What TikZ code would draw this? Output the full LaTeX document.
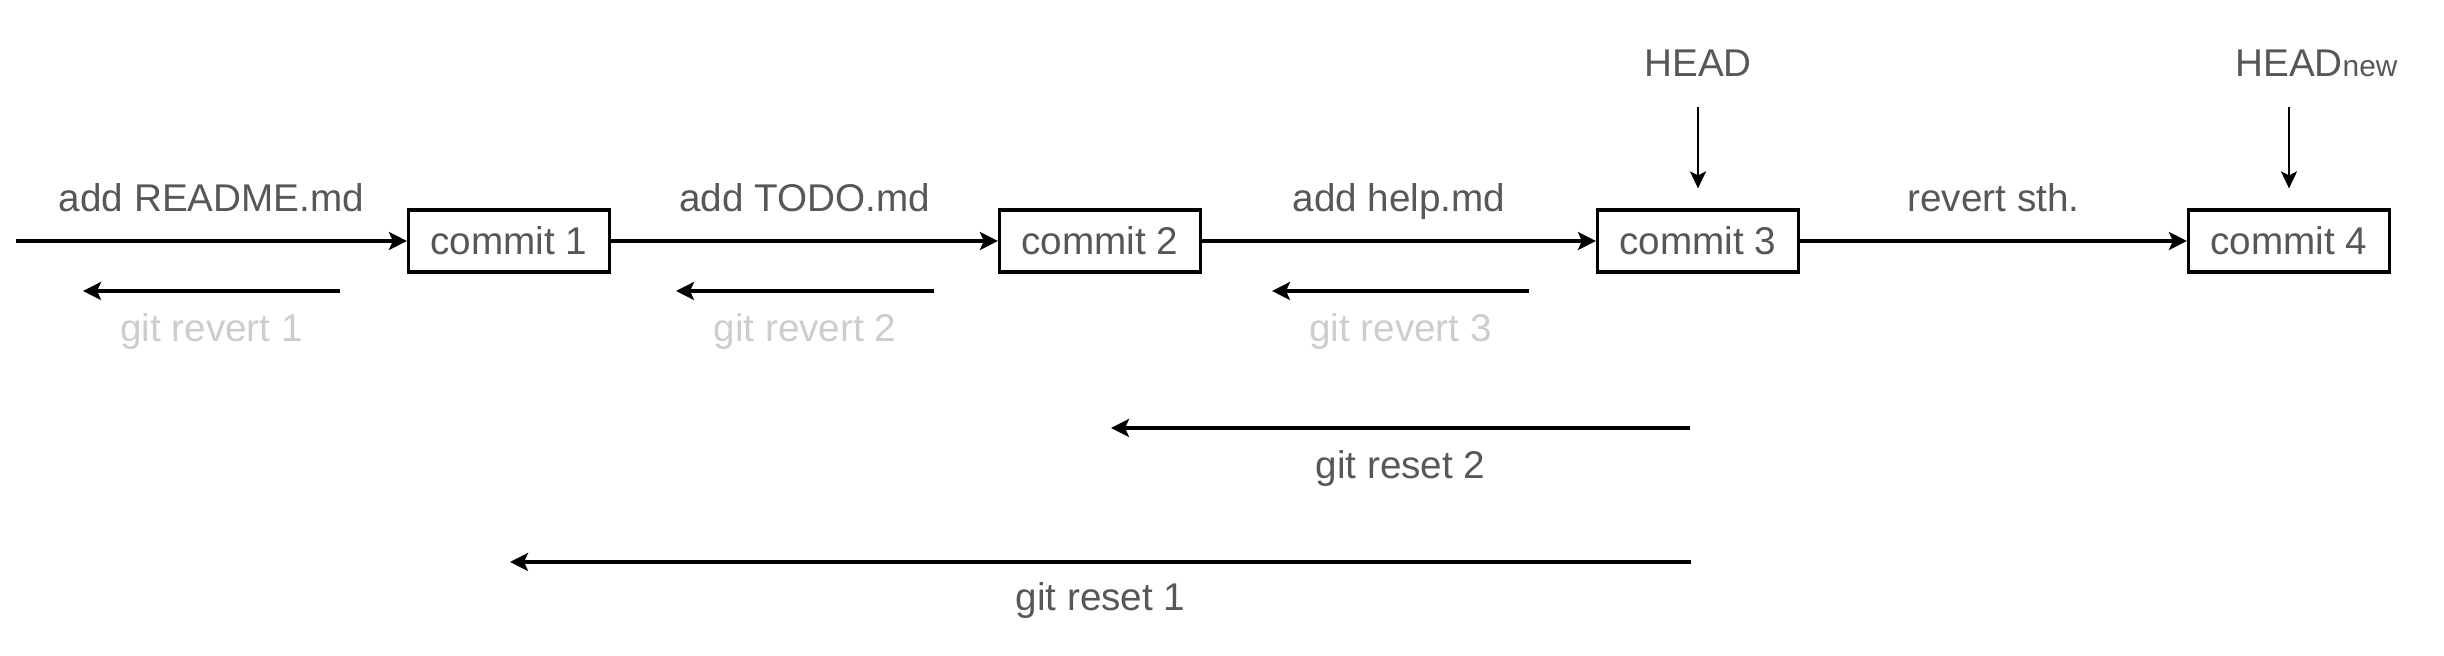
\documentclass[tikz,border=0pt]{standalone}
\usepackage{fontspec}
\setmainfont{Liberation Sans}
\usetikzlibrary{arrows.meta}

\definecolor{txtgray}{HTML}{575757}
\definecolor{revgray}{HTML}{CDCDCD}

\tikzset{
  commit/.style={draw, line width=0.9pt, minimum width=2.01cm, minimum height=0.62cm,
    inner sep=0pt, text=txtgray, font=\fontsize{11}{13}\selectfont},
  lbl/.style={text=txtgray, inner sep=0pt, text height=2.8mm, text depth=0pt,
    font=\fontsize{11}{13}\selectfont},
  revlbl/.style={lbl, text=revgray},
  flow/.style={line width=0.9pt, -{Stealth[length=1.8mm,width=1.8mm,inset=0.4mm]}},
  ptr/.style={line width=0.7pt, -{Stealth[length=1.7mm,width=1.6mm,inset=0.4mm]}}
}

\begin{document}
\begin{tikzpicture}
\useasboundingbox (0,0) rectangle (24.44,6.56);

% commits
\node[commit] (c1) at (5.09,4.15) {commit 1};
\node[commit] (c2) at (11.00,4.15) {commit 2};
\node[commit] (c3) at (16.98,4.15) {commit 3};
\node[commit] (c4) at (22.89,4.15) {commit 4};
\coordinate (start) at (0.16,4.15);

\draw[flow] (start) -- node[lbl, yshift=4.3mm] {add README.md} (c1);
\draw[flow] (c1) -- node[lbl, yshift=4.3mm] {add TODO.md} (c2);
\draw[flow] (c2) -- node[lbl, yshift=4.3mm] {add help.md} (c3);
\draw[flow] (c3) -- node[lbl, yshift=4.3mm] {revert sth.} (c4);

% HEAD pointers
\node[lbl] (head) at (16.98,5.93) {HEAD};
\node[lbl] (headnew) at (22.89,5.93) {HEAD\rlap{\fontsize{8.5}{9}\selectfont new}};
\draw[ptr] ([yshift=-2.9mm]head.south) -- ([yshift=2mm]c3.north);
\draw[ptr] ([yshift=-2.9mm]headnew.south) -- ([yshift=2mm]c4.north);

% git revert
\coordinate (rv1s) at (3.40,3.65);
\coordinate (rv1e) at (0.83,3.65);
\coordinate (rv2s) at (9.34,3.65);
\coordinate (rv2e) at (6.76,3.65);
\coordinate (rv3s) at (15.29,3.65);
\coordinate (rv3e) at (12.72,3.65);
\draw[flow] (rv1s) -- node[revlbl, yshift=-3.7mm] {git revert 1} (rv1e);
\draw[flow] (rv2s) -- node[revlbl, yshift=-3.7mm] {git revert 2} (rv2e);
\draw[flow] (rv3s) -- node[revlbl, yshift=-3.7mm] {git revert 3} (rv3e);

% git reset
\coordinate (rs2s) at (16.90,2.28);
\coordinate (rs2e) at (11.11,2.28);
\coordinate (rs1s) at (16.91,0.94);
\coordinate (rs1e) at (5.10,0.94);
\draw[flow] (rs2s) -- node[lbl, yshift=-3.7mm] {git reset 2} (rs2e);
\draw[flow] (rs1s) -- node[lbl, yshift=-3.5mm] {git reset 1} (rs1e);

\end{tikzpicture}
\end{document}
